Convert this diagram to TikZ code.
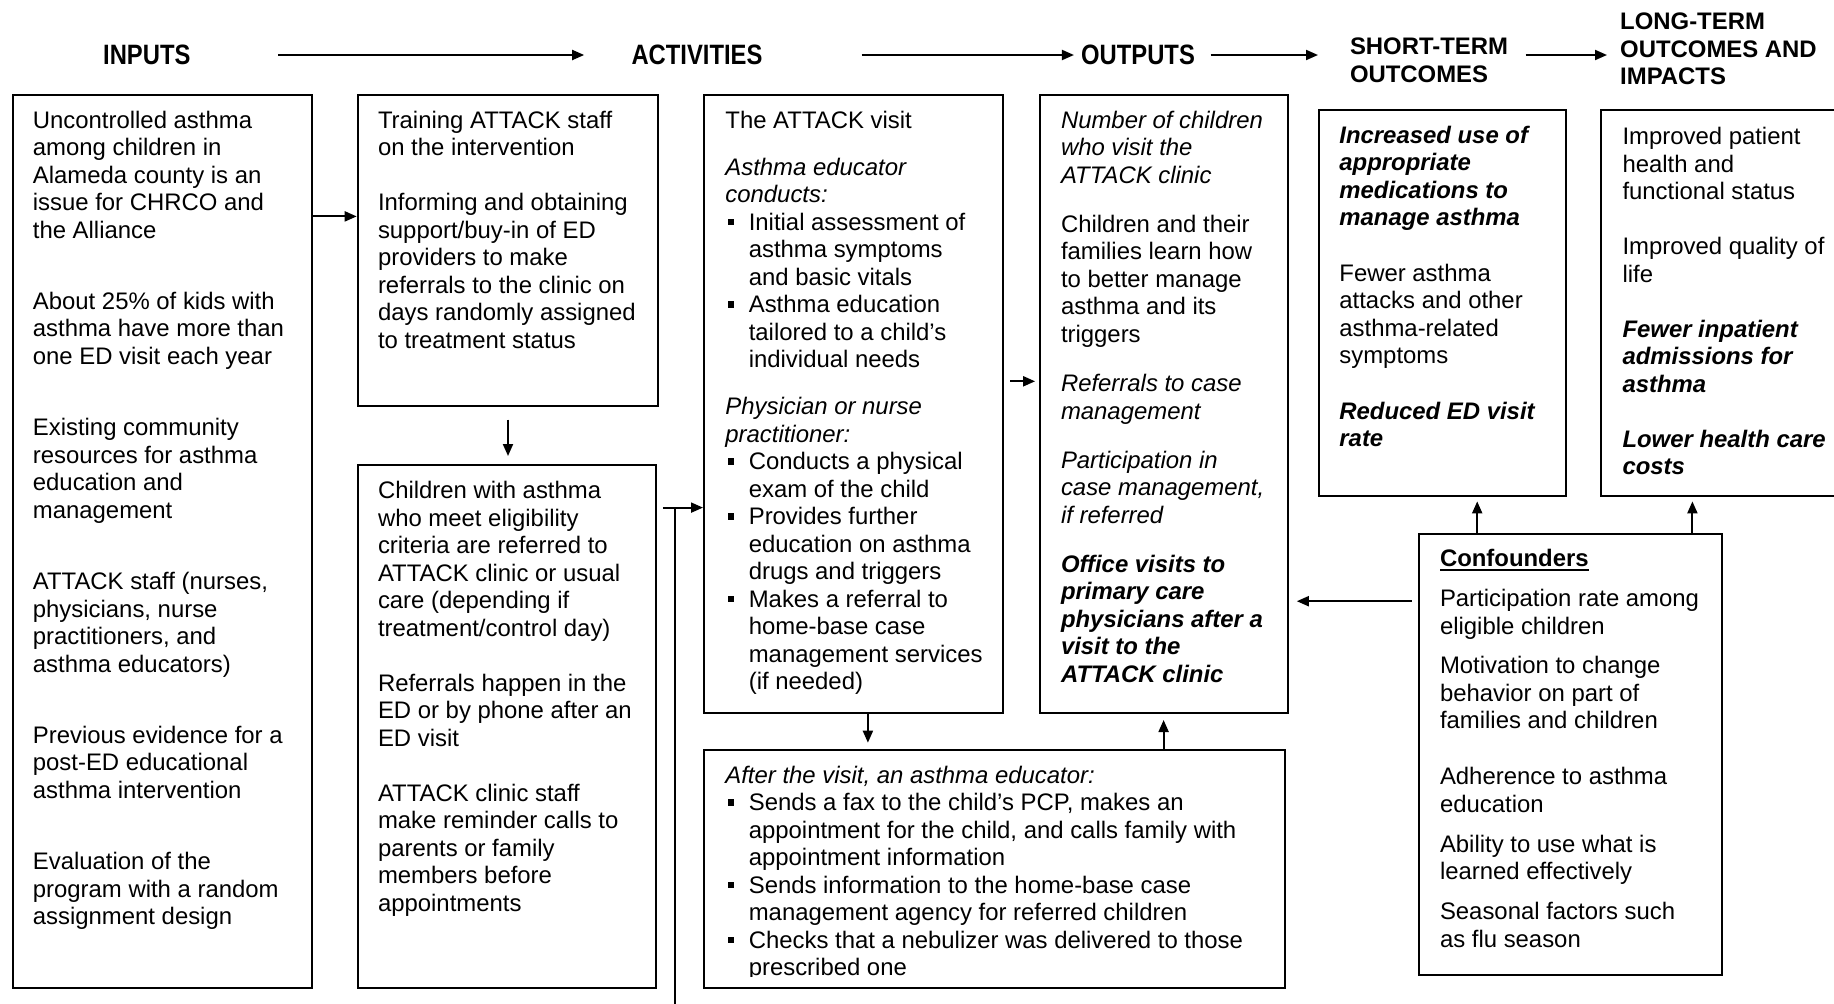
\documentclass[tikz,border=0pt]{standalone}
\usepackage{fontspec}
\setmainfont{Liberation Sans}
\newfontfamily\hdrfont[FakeStretch=0.85]{Liberation Sans}
\usetikzlibrary{arrows.meta}
\newsavebox\ulbox
\newcommand\ulbf[1]{\sbox\ulbox{\bfseries #1}\rlap{\usebox\ulbox}\rule[-4pt]{\wd\ulbox}{2pt}}
\newcommand\bul{\makebox[23.4pt][l]{\hspace{2.3pt}\raisebox{4.8pt}{\rule{6.5pt}{6.5pt}}}}
\newcommand\ind{\hspace*{23.4pt}}
\newcommand\bi[1]{\textbf{\textit{#1}}}
\tikzset{
  box/.style={draw, line width=2pt, inner sep=0pt, anchor=north west},
  txt/.style={anchor=north west, inner sep=0pt, align=left, font=\fontsize{23.9}{27.5}\selectfont},
  arr/.style={line width=2pt, -{Triangle[length=12pt,width=10pt]}},
  ln/.style={line width=2pt},
  hdr/.style={font=\hdrfont\bfseries\fontsize{28}{30}\selectfont, inner sep=0pt},
  hdrb/.style={font=\bfseries\fontsize{23.9}{27.5}\selectfont, inner sep=0pt, align=left, anchor=north west},
}
\begin{document}
\begin{tikzpicture}[x=1pt,y=-1pt]
\useasboundingbox[fill=white] (0,0) rectangle (1834,1004);

% headers
\node[hdr] (hIn) at (146.8,55) {INPUTS};
\node[hdr] (hAct) at (697,55) {ACTIVITIES};
\node[hdr] (hOut) at (1138,55) {OUTPUTS};
\node[hdrb] (hShort) at (1349.8,35.3) {\strut SHORT-TERM\\OUTCOMES};
\node[hdrb] (hLong) at (1620,10.5) {\strut LONG-TERM\\OUTCOMES AND\\IMPACTS};

\draw[arr, shorten <=87.8pt, shorten >=47.2pt] (hIn.east) -- (hAct.west);
\draw[arr, shorten <=99pt, shorten >=7pt] (hAct.east) -- (hOut.west);
\draw[arr, shorten <=15.6pt, shorten >=31.8pt] (hOut.east) -- (hShort.west |- hOut.east);
\draw[arr, shorten <=17.5pt, shorten >=13pt] (hShort.east |- hOut.east) -- (hLong.west |- hOut.east);

% boxes
\node[box, minimum width=299.4pt, minimum height=893.4pt] (inp) at (11.7,93.6) {};
\node[box, minimum width=300.6pt, minimum height=311.1pt] (train) at (356.7,93.6) {};
\node[box, minimum width=298.3pt, minimum height=522.7pt] (child) at (356.7,464.3) {};
\node[box, minimum width=299.4pt, minimum height=618.7pt] (visit) at (703,93.6) {};
\node[box, minimum width=248pt, minimum height=618.7pt] (outp) at (1038.6,93.6) {};
\node[box, minimum width=581.2pt, minimum height=238.5pt] (after) at (703,748.5) {};
\node[box, minimum width=246.8pt, minimum height=385.9pt] (short) at (1318.2,108.8) {};
\node[box, minimum width=260pt, minimum height=385.9pt] (long) at (1600,108.8) {};
\node[box, minimum width=302.9pt, minimum height=441pt] (conf) at (1417.6,533.3) {};

% texts
\node[txt] (inpT) at (32.7,108.7) {\strut Uncontrolled asthma\\
among children in\\
Alameda county is an\\
issue for CHRCO and\\
the Alliance\\[43.8pt]
About 25\% of kids with\\
asthma have more than\\
one ED visit each year\\[43.8pt]
Existing community\\
resources for asthma\\
education and\\
management\\[43.8pt]
ATTACK staff (nurses,\\
physicians, nurse\\
practitioners, and\\
asthma educators)\\[43.8pt]
Previous evidence for a\\
post-ED educational\\
asthma intervention\\[43.8pt]
Evaluation of the\\
program with a random\\
assignment design};

\node[txt] (trainT) at (377.8,108.7) {\strut Training ATTACK staff\\
on the intervention\\[27.5pt]
Informing and obtaining\\
support/buy-in of ED\\
providers to make\\
referrals to the clinic on\\
days randomly assigned\\
to treatment status};

\node[txt] (childT) at (377.8,479.5) {\strut Children with asthma\\
who meet eligibility\\
criteria are referred to\\
ATTACK clinic or usual\\
care (depending if\\
treatment/control day)\\[27.5pt]
Referrals happen in the\\
ED or by phone after an\\
ED visit\\[27.5pt]
ATTACK clinic staff\\
make reminder calls to\\
parents or family\\
members before\\
appointments};

\node[txt] (visitT) at (725.2,108.7) {\strut The ATTACK visit\\[19.5pt]
\textit{Asthma educator}\\
\textit{conducts:}\\
\bul Initial assessment of\\
\ind asthma symptoms\\
\ind and basic vitals\\
\bul Asthma education\\
\ind tailored to a child’s\\
\ind individual needs\\[19.5pt]
\textit{Physician or nurse}\\
\textit{practitioner:}\\
\bul Conducts a physical\\
\ind exam of the child\\
\bul Provides further\\
\ind education on asthma\\
\ind drugs and triggers\\
\bul Makes a referral to\\
\ind home-base case\\
\ind management services\\
\ind (if needed)};

\node[txt] (outpT) at (1060.8,108.7) {\strut\textit{Number of children}\\
\textit{who visit the}\\
\textit{ATTACK clinic}\\[21.7pt]
Children and their\\
families learn how\\
to better manage\\
asthma and its\\
triggers\\[21.7pt]
\textit{Referrals to case}\\
\textit{management}\\[21.7pt]
\textit{Participation in}\\
\textit{case management,}\\
\textit{if referred}\\[21.7pt]
\bi{Office visits to}\\
\bi{primary care}\\
\bi{physicians after a}\\
\bi{visit to the}\\
\bi{ATTACK clinic}};

\begin{scope}
\clip (703,748.5) rectangle (1284.2,976);
\node[txt] (afterT) at (725.2,763.7) {\strut\textit{After the visit, an asthma educator:}\\
\bul Sends a fax to the child’s PCP, makes an\\
\ind appointment for the child, and calls family with\\
\ind appointment information\\
\bul Sends information to the home-base case\\
\ind management agency for referred children\\
\bul Checks that a nebulizer was delivered to those\\
\ind prescribed one};
\end{scope}

\node[txt] (shortT) at (1339.2,123.9) {\strut\bi{Increased use of}\\
\bi{appropriate}\\
\bi{medications to}\\
\bi{manage asthma}\\[28pt]
Fewer asthma\\
attacks and other\\
asthma-related\\
symptoms\\[28pt]
\bi{Reduced ED visit}\\
\bi{rate}};

\node[txt] (longT) at (1622.3,125.1) {\strut Improved patient\\
health and\\
functional status\\[27.5pt]
Improved quality of\\
life\\[27.5pt]
\bi{Fewer inpatient}\\
\bi{admissions for}\\
\bi{asthma}\\[27.5pt]
\bi{Lower health care}\\
\bi{costs}};

\node[txt] (confT) at (1439.8,547.3) {\strut\ulbf{Confounders}\\[12.3pt]
Participation rate among\\
eligible children\\[12.3pt]
Motivation to change\\
behavior on part of\\
families and children\\[28.6pt]
Adherence to asthma\\
education\\[12.3pt]
Ability to use what is\\
learned effectively\\[12.3pt]
Seasonal factors such\\
as flu season};

% connectors
\coordinate (y1) at (0,216.4);
\draw[arr] (inp.east |- y1) -- (train.west |- y1);
\draw[arr, shorten <=12.9pt, shorten >=8.3pt] (train.south) -- (train.south |- child.north);
\coordinate (jn) at (674.9,507.6);
\coordinate (jb) at (674.9,1010);
\draw[arr, shorten <=5.8pt] (child.east |- jn) -- (visit.west |- jn);
\draw[ln] (jn) -- (jb);
\coordinate (y4) at (0,381.3);
\draw[arr, shorten <=5.8pt, shorten >=3.5pt] (visit.east |- y4) -- (outp.west |- y4);
\coordinate (x5) at (867.9,0);
\draw[arr, shorten >=5.8pt] (visit.south -| x5) -- (after.north -| x5);
\draw[arr, shorten >=5.7pt] (after.north -| outp.south) -- (outp.south);
\coordinate (y7) at (0,601.2);
\draw[arr, shorten <=5.9pt, shorten >=8.2pt] (conf.west |- y7) -- (outp.east |- y7);
\coordinate (x8) at (1477.2,0);
\coordinate (x9) at (1692.4,0);
\draw[arr, shorten >=4.7pt] (conf.north -| x8) -- (short.south -| x8);
\draw[arr, shorten >=4.7pt] (conf.north -| x9) -- (long.south -| x9);
\end{tikzpicture}
\end{document}
